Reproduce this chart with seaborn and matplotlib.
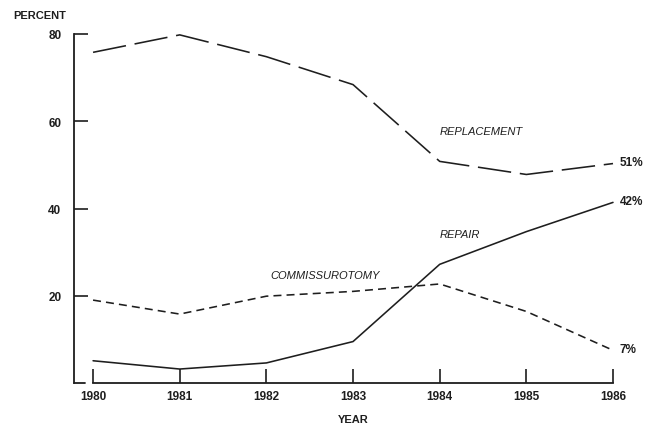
import matplotlib
matplotlib.use("Agg")
import matplotlib.pyplot as plt
import seaborn as sns
import pandas as pd

# Datos
years = [1980, 1981, 1982, 1983, 1984, 1985, 1986]
replacement = [75.8, 79.8, 74.8, 68.4, 50.8, 47.8, 50.3]
repair = [5.1, 3.2, 4.6, 9.5, 27.2, 34.7, 41.4]
commissurotomy = [19.0, 15.8, 19.9, 21.0, 22.7, 16.4, 7.5]
end_labels = ["51%", "42%", "7%"]
series_names = ["REPLACEMENT", "REPAIR", "COMMISSUROTOMY"]

df = pd.DataFrame({
    "year": years * 3,
    "value": replacement + repair + commissurotomy,
    "serie": [series_names[0]] * 7 + [series_names[1]] * 7 + [series_names[2]] * 7,
})

sns.set_style("white")
plt.rcParams["font.family"] = ["Liberation Sans", "DejaVu Sans"]

fig = plt.figure(figsize=(6.49, 4.27), dpi=100)
ax = fig.add_axes([74 / 649, 43 / 427, 565 / 649, 349 / 427])

ink = "#1e1e1e"
sns.lineplot(data=df, x="year", y="value", style="serie",
             dashes={"REPLACEMENT": (21, 5.5), "REPAIR": "",
                     "COMMISSUROTOMY": (5, 3.2)},
             color=ink, linewidth=1.15, legend=False, ax=ax)
for ln in ax.lines:
    ln.set_clip_on(False)

ax.set_xlim(1979.78, 1986.3)
ax.set_ylim(0, 80)

# Ejes
for s in ["top", "right"]:
    ax.spines[s].set_visible(False)
for s in ["left", "bottom"]:
    ax.spines[s].set_color(ink)
    ax.spines[s].set_linewidth(1.3)
ax.spines["bottom"].set_bounds(1980, 1986)
ax.axhline(0, xmin=0, xmax=11 / 565, color=ink, linewidth=1.3, clip_on=False)

ax.set_xticks(years)
ax.set_yticks([20, 40, 60, 80])
ax.tick_params(axis="both", direction="in", length=10, width=1.2, color=ink,
               labelsize=8.5, labelcolor=ink, bottom=True, left=True)
ax.tick_params(axis="y", pad=9)
ax.tick_params(axis="x", pad=5)
for lab in ax.get_xticklabels() + ax.get_yticklabels():
    lab.set_fontweight("bold")

ax.set_xlabel("")
ax.set_ylabel("")
ax.grid(False)

# Etiquetas de las series
ax.text(1984.0, 57.0, "REPLACEMENT", style="italic", fontsize=8, color=ink)
ax.text(1984.0, 33.5, "REPAIR", style="italic", fontsize=8, color=ink)
ax.text(1982.05, 24.0, "COMMISSUROTOMY", style="italic", fontsize=8, color=ink)

# Valores finales
finales = [replacement[-1], repair[-1], commissurotomy[-1]]
for v, lab in zip(finales, end_labels):
    ax.text(1986.08, v + 0.3, lab, fontsize=8.5, fontweight="bold",
            va="center", ha="left", color=ink)

fig.text(13 / 649, 1 - 16 / 427, "PERCENT", fontsize=8, fontweight="bold",
         va="center", ha="left", color=ink)
fig.text(353 / 649, 1 - 420 / 427, "YEAR", fontsize=8, fontweight="bold",
         va="center", ha="center", color=ink)

fig.savefig("out.png", dpi=100, facecolor="white")
plt.close()
